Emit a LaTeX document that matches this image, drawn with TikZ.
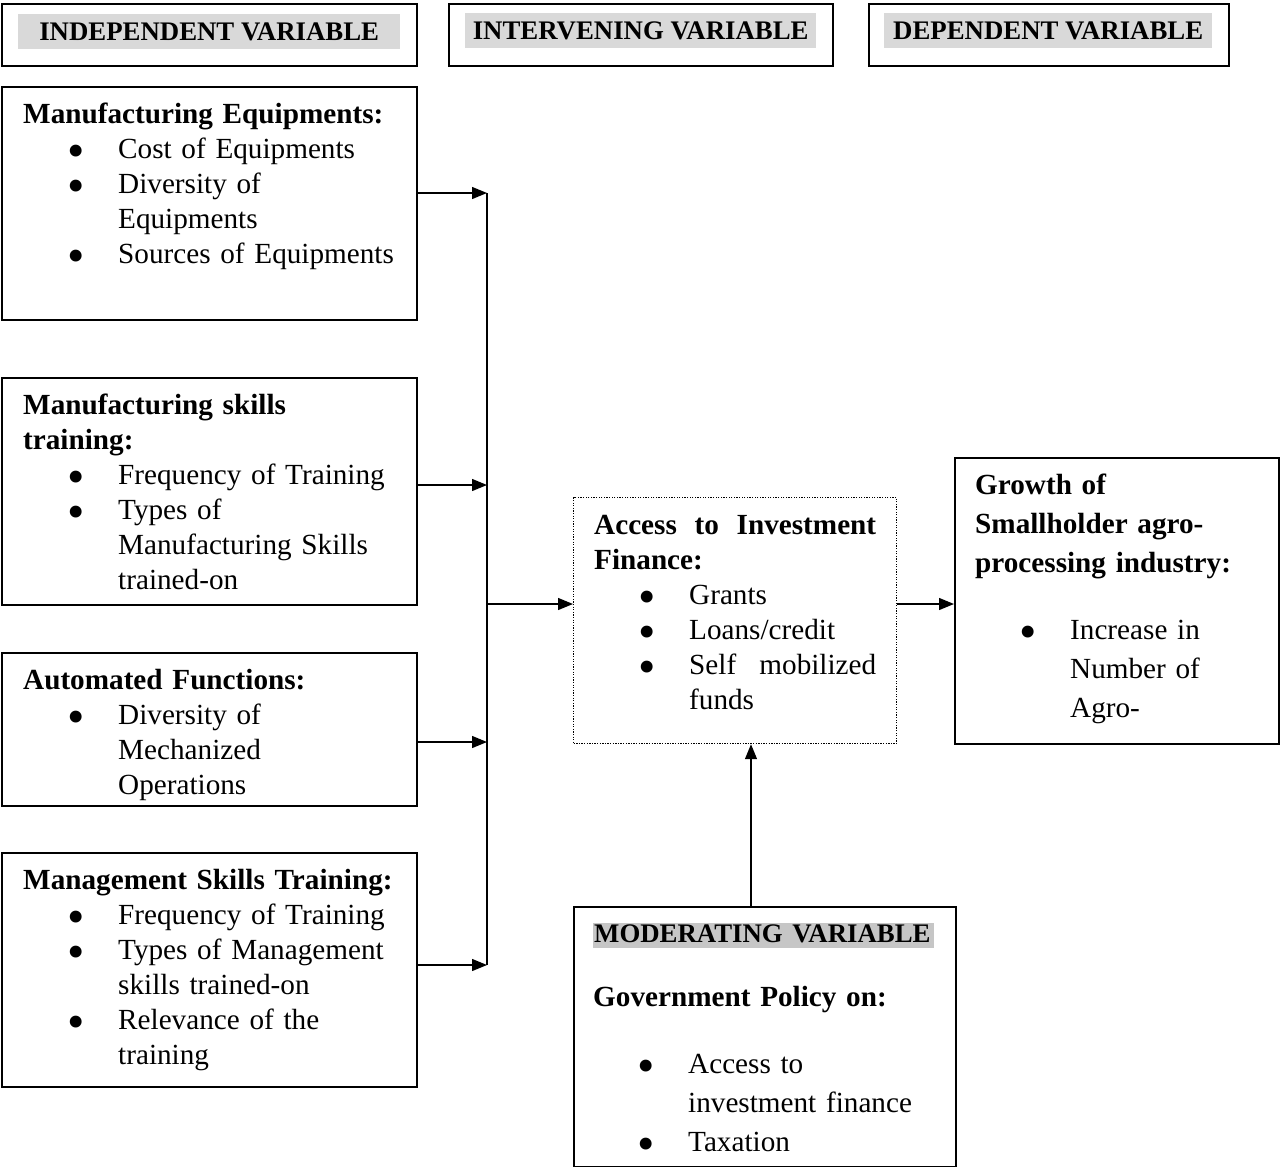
\documentclass[tikz,border=0pt]{standalone}
\usepackage{fontspec}
\setmainfont{Liberation Serif}
\usetikzlibrary{arrows.meta}
\setlength{\parindent}{0pt}

\newcommand{\bodyfont}{\fontsize{29.2pt}{35pt}\selectfont}
\newcommand{\loosefont}{\fontsize{29.2pt}{39pt}\selectfont}
\newcommand{\hdrfont}{\fontsize{26.8pt}{32pt}\selectfont}
\newcommand{\topstrut}[1][37pt]{\rule{0pt}{#1}}
\newcommand{\bul}{\llap{\smash{\raisebox{-9pt}{\scalebox{1.7}{\textbullet}}}\hspace{33.5pt}}}
\newcommand{\itm}[1]{\par{\leftskip=95pt\noindent\bul#1\par}}

\begin{document}
\begin{tikzpicture}[x=1pt, y=-1pt,
            varbox/.style={draw, line width=1.5pt, inner sep=0pt, anchor=north west},
            hdrtag/.style={fill=gray!30, inner sep=0pt, anchor=north west, font=\hdrfont\bfseries},
            bodytext/.style={anchor=north west, inner sep=0pt, text width=#1, font=\bodyfont},
            loosetext/.style={anchor=north west, inner sep=0pt, text width=#1, font=\loosefont},
            arr/.style={-{Triangle[length=15pt,width=12pt]}, line width=1.3pt}]
        \useasboundingbox (0,0) rectangle (1280,1167);

        \node[varbox, minimum width=415pt, minimum height=62pt] (indep) at (1,3) {};
        \node[hdrtag, minimum width=382pt, minimum height=35pt] (indeptag) at (18,14) {INDEPENDENT VARIABLE};
        \node[varbox, minimum width=384pt, minimum height=62pt] (interv) at (448,3) {};
        \node[hdrtag, minimum width=351pt, minimum height=35pt] (intervtag) at (465,13) {INTERVENING VARIABLE};
        \node[varbox, minimum width=360pt, minimum height=62pt] (dep) at (868,3) {};
        \node[hdrtag, minimum width=328pt, minimum height=35pt] (deptag) at (884,13) {DEPENDENT VARIABLE};

        \node[varbox, minimum width=415pt, minimum height=233pt] (equip) at (1,86) {};
        \node[bodytext=385pt] (equiptext) at ([xshift=22pt]equip.north west)
            {\topstrut\textbf{Manufacturing Equipments:}
             \itm{Cost of Equipments}
             \itm{Diversity of\\Equipments}
             \itm{Sources of Equipments}};

        \node[varbox, minimum width=415pt, minimum height=227pt] (skills) at (1,377) {};
        \node[bodytext=385pt] (skillstext) at ([xshift=22pt]skills.north west)
            {\topstrut\textbf{Manufacturing skills\\training:}
             \itm{Frequency of Training}
             \itm{Types of\\Manufacturing Skills\\trained-on}};

        \node[varbox, minimum width=415pt, minimum height=153pt] (auto) at (1,652) {};
        \node[bodytext=385pt] (autotext) at ([xshift=22pt]auto.north west)
            {\topstrut\textbf{Automated Functions:}
             \itm{Diversity of\\Mechanized\\Operations}};

        \node[varbox, minimum width=415pt, minimum height=234pt] (mgmt) at (1,852) {};
        \node[bodytext=385pt] (mgmttext) at ([xshift=22pt]mgmt.north west)
            {\topstrut\textbf{Management Skills Training:}
             \itm{Frequency of Training}
             \itm{Types of Management\\skills trained-on}
             \itm{Relevance of the\\training}};

        \node[varbox, dash pattern=on 1.3pt off 1.3pt, line width=1.2pt,
            minimum width=323pt, minimum height=246pt] (finance) at (573,497) {};
        \node[bodytext=282pt] (financetext) at ([xshift=21pt]finance.north west)
            {\topstrut\textbf{Access\hfill to\hfill Investment\\Finance:}
             \itm{Grants}
             \itm{Loans/credit}
             \itm{Self\hfill mobilized\\funds}};

        \node[varbox, minimum width=324pt, minimum height=286pt] (growth) at (954,457) {};
        \node[loosetext=290pt] (growthtext) at ([xshift=21pt]growth.north west)
            {\topstrut\textbf{Growth of\\Smallholder agro-\\processing industry:}\par
             \vspace{28pt}
             \itm{Increase in\\Number of\\Agro-}};

        \node[varbox, minimum width=382pt, minimum height=260pt] (moder) at (573,906) {};
        \node[loosetext=345pt] (modertext) at ([xshift=20pt]moder.north west)
            {\topstrut[36pt]{\fboxsep=0pt\colorbox{gray!45}{\rule[-6pt]{0pt}{25pt}\hdrfont\bfseries\kern1pt MODERATING VARIABLE\kern3pt}}\par
             \vspace{25pt}
             \textbf{Government Policy on:}\par
             \vspace{28pt}
             \itm{Access to\\investment finance}
             \itm{Taxation}};

        \coordinate (bus1) at (487,193);
        \coordinate (bus2) at (487,485);
        \coordinate (bus0) at (487,604);
        \coordinate (bus3) at (487,742);
        \coordinate (bus4) at (487,965);
        \coordinate (polfoot) at (751,906);

        \draw[line width=1.3pt] (bus1) -- (bus4);
        \draw[arr] (equip.east |- bus1) -- (bus1);
        \draw[arr] (skills.east |- bus2) -- (bus2);
        \draw[arr] (auto.east |- bus3) -- (bus3);
        \draw[arr] (mgmt.east |- bus4) -- (bus4);
        \draw[arr] (bus0) -- (finance.west |- bus0);
        \draw[arr] (finance.east |- bus0) -- (growth.west |- bus0);
        \draw[arr] (polfoot) -- (polfoot |- finance.south);
\end{tikzpicture}
\end{document}
